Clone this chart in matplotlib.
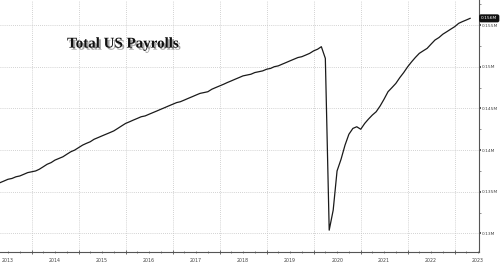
import pandas as pd
import matplotlib
matplotlib.use("Agg")
import matplotlib.pyplot as plt
import matplotlib.dates as mdates
import matplotlib.ticker as mticker
import matplotlib.patheffects as pe

# month-end observations, Apr 2013 .. Apr 2023 (millions shown as "M" like the source)
months = pd.date_range("2013-04-30", "2023-04-30", freq="ME")

p2013 = [0.1361, 0.1363, 0.1365, 0.1366, 0.1368, 0.1369, 0.1371, 0.1373, 0.1374]
p2014 = [0.1375, 0.1377, 0.1380, 0.1383, 0.1385, 0.1388, 0.1390, 0.1392, 0.1395, 0.1398, 0.1400, 0.1403]
p2015 = [0.1406, 0.1408, 0.1410, 0.1413, 0.1415, 0.1417, 0.1419, 0.1421, 0.1423, 0.1426, 0.1429, 0.1432]
p2016 = [0.1434, 0.1436, 0.1438, 0.1440, 0.1441, 0.1443, 0.1445, 0.1447, 0.1449, 0.1451, 0.1453, 0.1455]
p2017 = [0.1457, 0.1458, 0.1460, 0.1462, 0.1464, 0.1466, 0.1468, 0.1469, 0.1470, 0.1473, 0.1475, 0.1477]
p2018 = [0.1479, 0.1481, 0.1483, 0.1485, 0.1487, 0.1489, 0.1490, 0.1491, 0.1493, 0.1494, 0.1495, 0.1497]
p2019 = [0.1498, 0.1500, 0.1501, 0.1503, 0.1505, 0.1507, 0.1509, 0.1511, 0.1512, 0.1514, 0.1516, 0.1519]
p2020 = [0.1521, 0.1524, 0.1510, 0.1304, 0.1328, 0.1375, 0.1389, 0.1406, 0.1419, 0.1426, 0.1428, 0.1425]
p2021 = [0.1432, 0.1437, 0.1442, 0.1446, 0.1453, 0.1461, 0.1470, 0.1475, 0.1480, 0.1487, 0.1493, 0.1500]
p2022 = [0.1506, 0.1511, 0.1516, 0.1519, 0.1522, 0.1527, 0.1532, 0.1535, 0.1539, 0.1542, 0.1545, 0.1548]
p2023 = [0.1552, 0.1554, 0.1556, 0.1558]

payrolls = p2013 + p2014 + p2015 + p2016 + p2017 + p2018 + p2019 + p2020 + p2021 + p2022 + p2023

year_labels = [str(y) for y in range(2013, 2024)]
y_ticks = [0.13, 0.135, 0.14, 0.145, 0.15, 0.155]

title = "Total US Payrolls"

fig = plt.figure(figsize=(5, 2.63), dpi=100)
ax = fig.add_axes([0, 0.0418, 0.958, 0.9582])

ax.plot(months, payrolls, color="#1a1a1a", lw=0.9)

ax.set_xlim(pd.Timestamp("2013-04-29"), pd.Timestamp("2023-07-08"))
ax.set_ylim(0.12778, 0.1580)

# year boundaries carry the grid, labels sit mid-year
ax.xaxis.set_major_locator(mdates.YearLocator())
ax.xaxis.set_major_formatter(mticker.NullFormatter())
ax.xaxis.set_minor_locator(mdates.MonthLocator(bymonth=[4, 7, 10]))
ax.xaxis.set_minor_formatter(mticker.NullFormatter())
for y, lab in zip(range(2013, 2024), year_labels):
    ax.text(pd.Timestamp(f"{y}-07-01"), -0.022, lab, transform=ax.get_xaxis_transform(),
            ha="center", va="top", fontsize=3.4, color="#444444")

ax.yaxis.tick_right()
ax.set_yticks(y_ticks)
ax.yaxis.set_major_formatter(mticker.FuncFormatter(lambda v, p: f"{v:g}M"))
ax.yaxis.set_minor_locator(mticker.MultipleLocator(0.0025))

ax.grid(True, which="major", color="#c4c4c4", ls=(0, (1, 1.5)), lw=0.6)
ax.tick_params(axis="y", which="major", length=1.5, width=1.2, color="#333333",
               labelsize=3.2, labelcolor="#444444", pad=0.6)
ax.tick_params(axis="y", which="minor", length=1.2, width=0.5, color="#666666")
ax.tick_params(axis="x", which="major", length=3, width=0.6, color="#555555",
               direction="inout", labelbottom=False)
ax.tick_params(axis="x", which="minor", length=2, width=0.5, color="#555555",
               direction="inout")

for side in ["left", "top"]:
    ax.spines[side].set_visible(False)
for side in ["right", "bottom"]:
    ax.spines[side].set_color("#555555")
    ax.spines[side].set_linewidth(0.8)

# last value tag
last = payrolls[-1]
ax.annotate(f"{last:.3f}M", xy=(1.0, last), xycoords=ax.get_yaxis_transform(),
            xytext=(1.5, 0), textcoords="offset points", ha="left", va="center",
            fontsize=3.2, color="white",
            bbox=dict(boxstyle="round,pad=0.3", fc="#111111", ec="#111111"))

ax.text(0.14, 0.825, title, transform=ax.transAxes, ha="left", va="center",
        fontsize=10.8, fontweight="bold", family="Liberation Serif", color="#111111",
        path_effects=[pe.SimplePatchShadow(offset=(1.5, -1.5), alpha=0.35), pe.Normal()])

fig.savefig("out.png", dpi=100)
